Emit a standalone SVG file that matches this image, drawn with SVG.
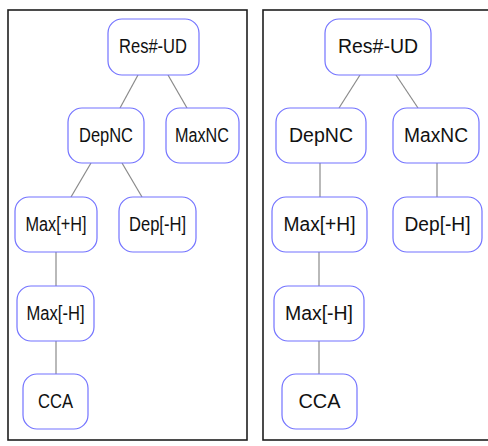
<svg xmlns="http://www.w3.org/2000/svg" width="488" height="446" viewBox="0 0 488 446">
<style>
.frame{fill:#fff;stroke:#1e1e1e;stroke-width:1.6}
.node rect{fill:#fff;stroke:#7373ff;stroke-width:1.2}
.node text{font-family:"Liberation Sans",Arial,sans-serif;font-size:20px;fill:#111;text-anchor:middle}
.edges line{stroke:#8a8a8a;stroke-width:1.2}
</style>
<rect width="488" height="446" fill="#fff"/>
<rect class="frame" x="8" y="10" width="239" height="430"/>
<rect class="frame" x="263" y="10" width="240" height="430"/>
<g id="connectors" class="edges">
<line x1="138" y1="75" x2="120" y2="108"/>
<line x1="168" y1="75" x2="187" y2="108"/>
<line x1="91" y1="163" x2="71" y2="197"/>
<line x1="122" y1="163" x2="142" y2="197"/>
<line x1="56" y1="252" x2="56" y2="286"/>
<line x1="56" y1="341" x2="56" y2="374"/>
<line x1="360" y1="75" x2="339" y2="108"/>
<line x1="396" y1="75" x2="418" y2="108"/>
<line x1="320" y1="163" x2="320" y2="197"/>
<line x1="437" y1="163" x2="437" y2="197"/>
<line x1="319" y1="252" x2="319" y2="286"/>
<line x1="319" y1="341" x2="319" y2="374"/>
</g>
<g id="L_res" class="node"><rect x="108" y="19" width="91" height="56" rx="14"/><text x="153" y="53" textLength="68" lengthAdjust="spacingAndGlyphs">Res#-UD</text></g>
<g id="L_depnc" class="node"><rect x="68" y="108" width="76" height="55" rx="14"/><text x="106" y="141.5" textLength="54" lengthAdjust="spacingAndGlyphs">DepNC</text></g>
<g id="L_maxnc" class="node"><rect x="166" y="108" width="73" height="55" rx="14"/><text x="202" y="141.5" textLength="54" lengthAdjust="spacingAndGlyphs">MaxNC</text></g>
<g id="L_maxph" class="node"><rect x="15" y="197" width="82" height="55" rx="14"/><text x="56" y="230.5" textLength="61" lengthAdjust="spacingAndGlyphs">Max[+H]</text></g>
<g id="L_depmh" class="node"><rect x="119" y="197" width="77" height="55" rx="14"/><text x="157.5" y="230.5" textLength="57" lengthAdjust="spacingAndGlyphs">Dep[-H]</text></g>
<g id="L_maxmh" class="node"><rect x="17" y="286" width="77" height="55" rx="14"/><text x="55.5" y="319.5" textLength="58" lengthAdjust="spacingAndGlyphs">Max[-H]</text></g>
<g id="L_cca" class="node"><rect x="23" y="374" width="65" height="55" rx="14"/><text x="55.5" y="407.5" textLength="35" lengthAdjust="spacingAndGlyphs">CCA</text></g>
<g id="R_res" class="node"><rect x="325" y="19" width="106" height="56" rx="14"/><text x="378" y="53" textLength="80" lengthAdjust="spacingAndGlyphs">Res#-UD</text></g>
<g id="R_depnc" class="node"><rect x="276" y="108" width="90" height="55" rx="14"/><text x="321" y="141.5" textLength="64" lengthAdjust="spacingAndGlyphs">DepNC</text></g>
<g id="R_maxnc" class="node"><rect x="393" y="108" width="86" height="55" rx="14"/><text x="436" y="141.5" textLength="64" lengthAdjust="spacingAndGlyphs">MaxNC</text></g>
<g id="R_maxph" class="node"><rect x="272" y="197" width="95" height="55" rx="14"/><text x="319.5" y="230.5" textLength="72" lengthAdjust="spacingAndGlyphs">Max[+H]</text></g>
<g id="R_depmh" class="node"><rect x="393" y="197" width="89" height="55" rx="14"/><text x="437.5" y="230.5" textLength="66" lengthAdjust="spacingAndGlyphs">Dep[-H]</text></g>
<g id="R_maxmh" class="node"><rect x="274" y="286" width="90" height="55" rx="14"/><text x="319" y="319.5" textLength="68" lengthAdjust="spacingAndGlyphs">Max[-H]</text></g>
<g id="R_cca" class="node"><rect x="282" y="374" width="75" height="55" rx="14"/><text x="319.5" y="407.5" textLength="42" lengthAdjust="spacingAndGlyphs">CCA</text></g>
</svg>
